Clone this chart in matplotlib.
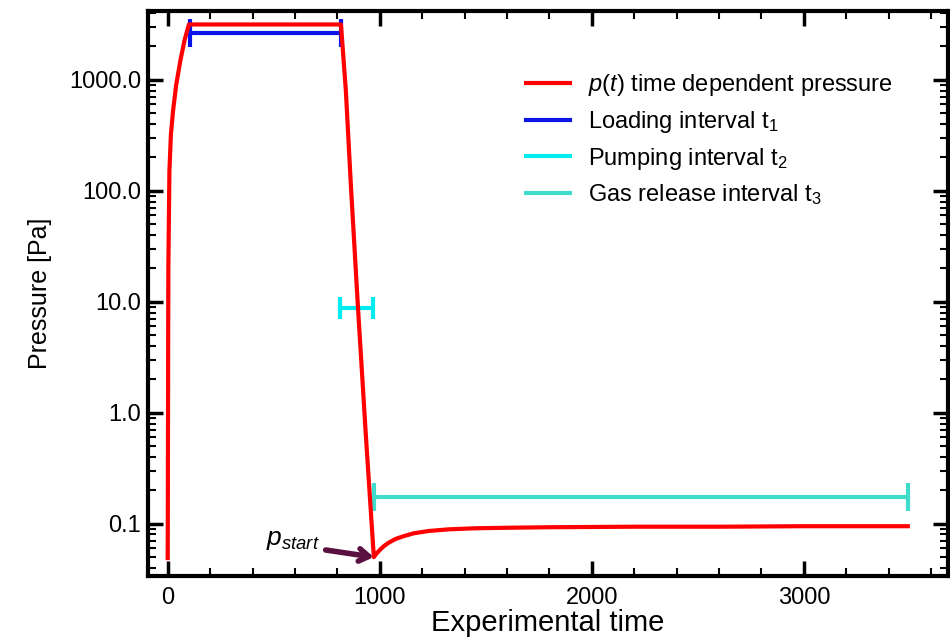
import numpy as np
import matplotlib.pyplot as plt
from matplotlib.lines import Line2D
from matplotlib.ticker import FixedLocator, LogLocator, NullFormatter, MultipleLocator

plt.rcParams['font.family'] = ['Liberation Sans', 'DejaVu Sans']
plt.rcParams['mathtext.fontset'] = 'custom'
plt.rcParams['mathtext.rm'] = 'Liberation Sans'
plt.rcParams['mathtext.it'] = 'Liberation Sans:italic'

# pressure curve p(t)
t_p = [0, 3, 8, 15, 25, 40, 60, 80, 100, 300, 500, 817, 840, 864, 897, 935, 972,
       985, 1000, 1020, 1045, 1075, 1110, 1160, 1230, 1324, 1450, 1600, 1800, 2200, 2600, 3000, 3490]
p_p = [0.049, 20, 150, 320, 520, 900, 1500, 2300, 3150, 3150, 3150, 3150, 800, 110, 9.0, 0.6, 0.050,
       0.054, 0.058, 0.063, 0.068, 0.073, 0.077, 0.082, 0.086, 0.089, 0.091, 0.092, 0.093, 0.094, 0.094, 0.095, 0.095]

# intervals: (start, end, level)
t1 = (103, 817, 2650)
t2 = (812, 967, 8.8)
t3 = (972, 3490, 0.175)

p_start = (972, 0.050)

yticks = [0.1, 1.0, 10.0, 100.0, 1000.0]
ytick_labels = ['0.1', '1.0', '10.0', '100.0', '1000.0']
xticks = [0, 1000, 2000, 3000]

colors = ['red', '#0a14e6', '#00ecf0', '#40dccb']
labels = ['$\\it{p(t)}$ time dependent pressure', 'Loading interval t$_1$',
          'Pumping interval t$_2$', 'Gas release interval t$_3$']

fig = plt.figure(figsize=(9.5, 6.44), dpi=100)
ax = fig.add_axes([0.156, 0.106, 0.842, 0.877])

ax.plot(t_p, p_p, color=colors[0], lw=3, zorder=3)

def interval(iv, color, cap):
    ax.errorbar([(iv[0] + iv[1]) / 2], [iv[2]], xerr=[[(iv[1] - iv[0]) / 2]],
                color=color, lw=3, capsize=cap, capthick=3, fmt='none', zorder=2)

interval(t1, colors[1], 10)
interval(t2, colors[2], 8)
interval(t3, colors[3], 10)

ax.annotate('', xy=p_start, xytext=(745, 0.058),
            arrowprops=dict(arrowstyle='->,head_length=0.7,head_width=0.45', color='#5a1040', lw=4,
                            shrinkA=0, shrinkB=0))
ax.text(590, 0.072, '$p_{start}$', fontsize=19, ha='center', va='center')

ax.set_yscale('log')
ax.set_xlim(-92, 3680)
ax.set_ylim(0.034, 4170)
ax.yaxis.set_major_locator(FixedLocator(yticks))
ax.set_yticklabels(ytick_labels)
ax.yaxis.set_minor_locator(LogLocator(base=10, subs=np.arange(2, 10)))
ax.yaxis.set_minor_formatter(NullFormatter())
ax.set_xticks(xticks)
ax.xaxis.set_minor_locator(MultipleLocator(200))

ax.tick_params(which='both', direction='in', top=True, right=True, labelsize=17)
ax.tick_params(axis='y', which='major', pad=5)
ax.tick_params(axis='x', which='major', pad=8)
ax.tick_params(which='major', length=11, width=2.5)
ax.tick_params(which='minor', length=6, width=1.5)
for s in ax.spines.values():
    s.set_linewidth(3)

ax.set_xlabel('Experimental time', fontsize=21, labelpad=0)
ax.set_ylabel('Pressure [Pa]', fontsize=18, labelpad=12)

handles = [Line2D([], [], color=c, lw=3) for c in colors]
ax.legend(handles, labels, loc='upper left', bbox_to_anchor=(0.46, 0.908), frameon=False, fontsize=17,
          handlelength=1.9, labelspacing=0.45, handletextpad=0.75, borderaxespad=0)

fig.savefig('out.png', dpi=100)
